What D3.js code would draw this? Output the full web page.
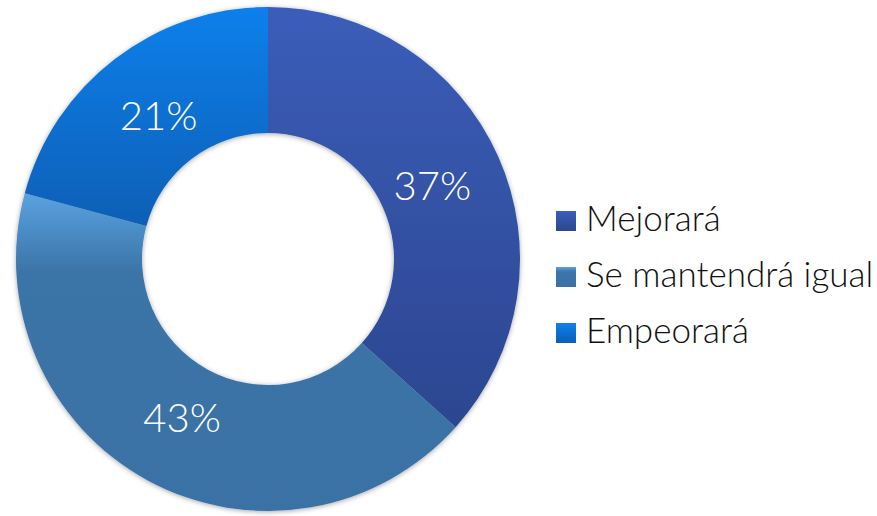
<!DOCTYPE html>
<html>
<head>
<meta charset="utf-8">
<script src="https://cdn.jsdelivr.net/npm/d3@7"></script>
<style>
  html, body { margin: 0; padding: 0; background: #fff; }
  svg { display: block; }
  text { font-family: "Lato", "Open Sans", "DejaVu Sans", sans-serif; font-weight: 300; }
</style>
</head>
<body>
<svg id="chart" width="877" height="516"></svg>
<script>
const categories = ["Mejorará", "Se mantendrá igual", "Empeorará"];
const values = [37, 43, 21];
const labels = ["37%", "43%", "21%"];
const gradTop = ["#3b5db9", "#5aa2e0", "#0e80ec"];
const gradMid = ["#3752a7", "#3b74a7", "#0b6fd3"];
const gradBottom = ["#2c4690", "#3a72a5", "#095fb5"];

const svg = d3.select("#chart");
const cx = 268, cy = 259, outerR = 252, innerR = 126;

const defs = svg.append("defs");
categories.forEach((c, i) => {
  const g = defs.append("linearGradient")
    .attr("id", "g" + i).attr("x1", 0).attr("y1", 0).attr("x2", 0).attr("y2", 1);
  g.append("stop").attr("offset", "0%").attr("stop-color", gradTop[i]);
  if (i === 1) g.append("stop").attr("offset", "25%").attr("stop-color", gradMid[i]);
  g.append("stop").attr("offset", "100%").attr("stop-color", gradBottom[i]);
});
const f = defs.append("filter").attr("id", "shadow")
  .attr("x", "-10%").attr("y", "-10%").attr("width", "120%").attr("height", "120%");
f.append("feDropShadow").attr("dx", 0).attr("dy", 1).attr("stdDeviation", 2.5)
  .attr("flood-color", "#000").attr("flood-opacity", 0.35);

const pie = d3.pie().sort(null).value(d => d);
const arcs = pie(values);
const arc = d3.arc().innerRadius(innerR).outerRadius(outerR);
const labelR = 180;
const labelArc = d3.arc().innerRadius(labelR).outerRadius(labelR);

const g = svg.append("g").attr("transform", `translate(${cx},${cy})`);
g.append("g").attr("filter", "url(#shadow)")
  .selectAll("path").data(arcs).enter().append("path")
  .attr("d", arc)
  .attr("fill", (d, i) => `url(#g${i})`);

g.selectAll("text.lbl").data(arcs).enter().append("text")
  .attr("class", "lbl")
  .attr("transform", d => {
    const [x, y] = labelArc.centroid(d);
    return `translate(${x},${y})`;
  })
  .attr("text-anchor", "middle")
  .attr("dy", "0.36em")
  .attr("fill", "#fff")
  .attr("font-size", 40)
  .text((d, i) => labels[i]);

const legend = svg.append("g").attr("transform", "translate(556,211)");
const items = legend.selectAll("g").data(categories).enter().append("g")
  .attr("transform", (d, i) => `translate(0,${i * 56})`);
items.append("rect").attr("width", 20).attr("height", 20)
  .attr("fill", (d, i) => `url(#g${i})`);
items.append("text").attr("x", 30).attr("y", 20)
  .attr("font-size", 35).attr("fill", "#111")
  .text(d => d);
</script>
</body>
</html>
